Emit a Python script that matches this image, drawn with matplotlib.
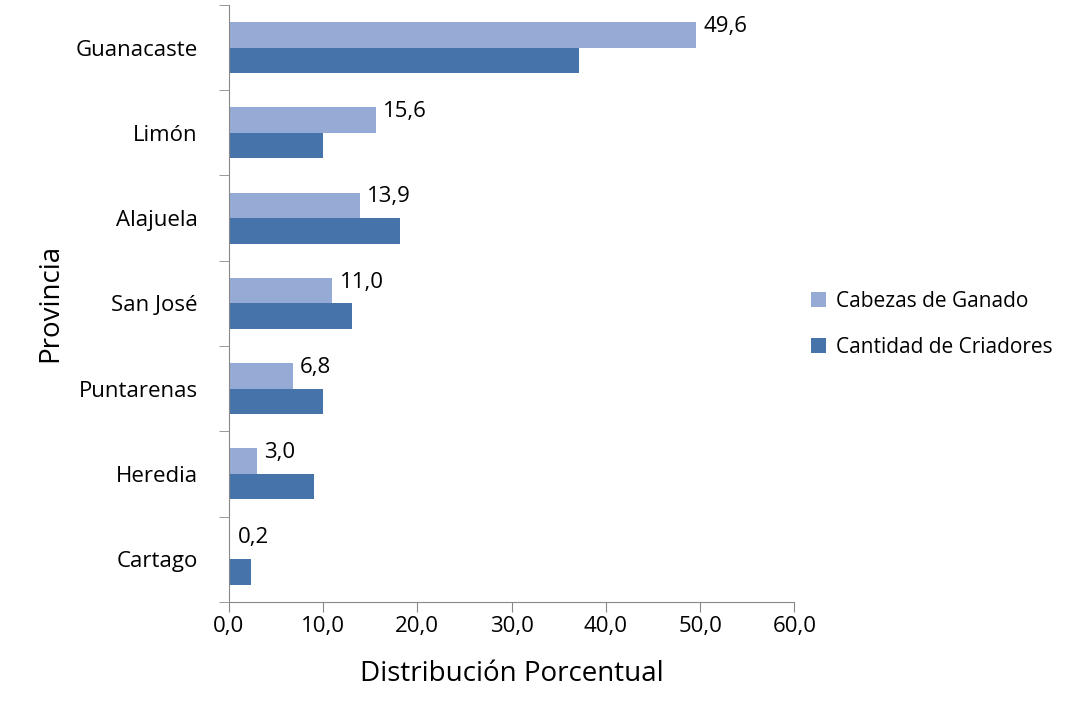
import numpy as np
import matplotlib.pyplot as plt

provincias = ["Cartago", "Heredia", "Puntarenas", "San José", "Alajuela", "Limón", "Guanacaste"]
cabezas = [0.2, 3.0, 6.8, 11.0, 13.9, 15.6, 49.6]
criadores = [2.4, 9.1, 10.0, 13.1, 18.2, 10.0, 37.2]

plt.rcParams["font.family"] = ["Open Sans", "DejaVu Sans"]

fig = plt.figure(figsize=(10.78, 7.13), dpi=100)
ax = fig.add_axes([0.212, 0.156, 0.525, 0.837])

y = np.arange(len(provincias))
h = 0.3
ax.barh(y + h / 2, cabezas, height=h, color="#95abd5", label="Cabezas de Ganado")
ax.barh(y - h / 2, criadores, height=h, color="#4673a9", label="Cantidad de Criadores")

for yi, v in zip(y, cabezas):
    ax.text(v + 0.8, yi + h / 2 + 0.1, f"{v:.1f}".replace(".", ","), fontsize=16, va="center", ha="left")

ax.set_xlim(0, 60)
ax.set_ylim(-0.5, len(provincias) - 0.5)
ax.set_xticks(np.arange(0, 61, 10))
ax.set_xticklabels([f"{t:.1f}".replace(".", ",") for t in np.arange(0, 61, 10)], fontsize=16)
ax.set_yticks(y)
ax.set_yticklabels(provincias, fontsize=16)
ax.set_yticks(np.arange(-0.5, len(provincias), 1), minor=True)
ax.tick_params(axis="y", which="major", length=0, pad=22)
ax.tick_params(axis="y", which="minor", length=7, color="#888888")
ax.tick_params(axis="x", length=7, color="#888888")
for s in ["top", "right"]:
    ax.spines[s].set_visible(False)
for s in ["left", "bottom"]:
    ax.spines[s].set_color("#888888")

ax.set_xlabel("Distribución Porcentual", fontsize=20, labelpad=16)
ax.set_ylabel("Provincia", fontsize=20, labelpad=8)

handles, labels = ax.get_legend_handles_labels()
fig.legend(handles, labels, loc="center left", bbox_to_anchor=(0.735, 0.545),
           frameon=False, fontsize=15, handlelength=0.7, handleheight=0.7,
           handletextpad=0.5, labelspacing=1.2)

fig.savefig("out.png")
